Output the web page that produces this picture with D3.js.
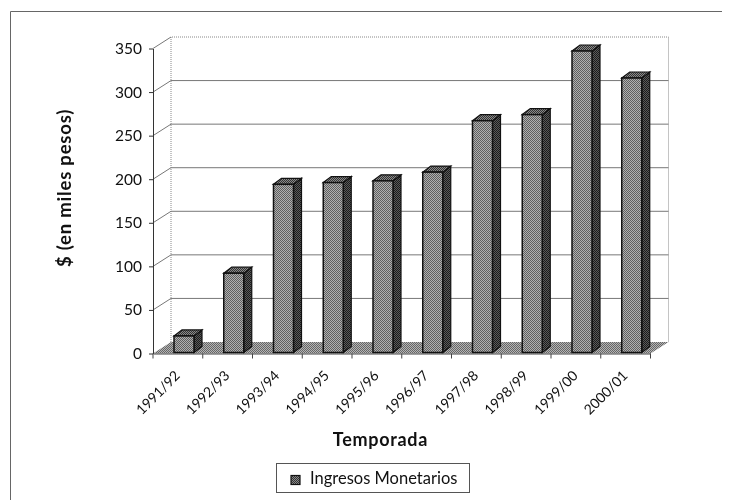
<!DOCTYPE html>
<html><head><meta charset="utf-8">
<style>html,body{margin:0;padding:0;background:#fff}svg{display:block;filter:blur(0.35px)}text{font-family:Lato,"Open Sans",sans-serif;fill:#111}</style>
<script src="https://cdn.jsdelivr.net/npm/d3@7"></script></head><body>
<div id="c"></div>
<script>
const categories=["1991/92","1992/93","1993/94","1994/95","1995/96","1996/97","1997/98","1998/99","1999/00","2000/01"];
const ingresos=[19,91,193,195,197,207,266,273,346,315];
const yTicks=[0,50,100,150,200,250,300,350];
const seriesName="Ingresos Monetarios";
const yTitle="$ (en miles pesos)";
const xTitle="Temporada";

const W=742,H=500;
const svg=d3.select("#c").append("svg").attr("width",W).attr("height",H);
const defs=svg.append("defs");
function dither(id,a,b){
  const p=defs.append("pattern").attr("id",id).attr("width",2).attr("height",2).attr("patternUnits","userSpaceOnUse");
  p.append("rect").attr("width",2).attr("height",2).attr("fill",a);
  p.append("rect").attr("width",1).attr("height",1).attr("fill",b);
  p.append("rect").attr("x",1).attr("y",1).attr("width",1).attr("height",1).attr("fill",b);
}
dither("front","#b0b0b0","#5f5f5f");
dither("side","#5a5a5a","#1c1c1c");
dither("top","#8a8a8a","#333");
dither("floor","#b4b4b4","#666");

const x=d3.scaleBand().domain(categories).range([153,650.5]);
const y=d3.scaleLinear().domain([0,350]).range([353.5,48.5]);
const backDx=18,backDy=11.5,barDx=8,barDy=6,barW=20,barInset=21,barBase=352.5;

// outer frame
svg.append("path").attr("d",`M10.5,500V11.5H722`).attr("fill","none").attr("stroke","#666").attr("stroke-width",1);

// back wall gridlines + side wall
const g=svg.append("g");
g.append("path").attr("d",`M${x.range()[0]+backDx},${y(0)-backDy}V${y(350)-backDy}H${x.range()[1]+backDx}V${y(0)-backDy}`)
 .attr("fill","none").attr("stroke","#888").attr("stroke-dasharray","1 1");
g.selectAll("path.grid").data(yTicks.filter(t=>t>0&&t<350)).join("path").attr("class","grid")
 .attr("d",t=>`M${x.range()[0]},${y(t)}L${x.range()[0]+backDx},${y(t)-backDy}H${x.range()[1]+backDx}`)
 .attr("fill","none").attr("stroke","#777");
g.append("path").attr("d",`M${x.range()[0]},${y(350)}L${x.range()[0]+backDx},${y(350)-backDy}`).attr("fill","none").attr("stroke","#777");

// floor
g.append("path").attr("d",`M${x.range()[0]},${y(0)}L${x.range()[0]+backDx},${y(0)-backDy}H${x.range()[1]+backDx}L${x.range()[1]},${y(0)}Z`)
 .attr("fill","url(#floor)");

// bars
const bars=svg.append("g").selectAll("g").data(categories.map((c,i)=>({c,v:ingresos[i]}))).join("g");
const bx=d=>x(d.c)+barInset;
const by=d=>barBase-(y(0)-y(d.v));
bars.append("path").attr("d",d=>`M${bx(d)+barW},${by(d)}l${barDx},${-barDy}V${barBase-barDy}l${-barDx},${barDy}Z`)
 .attr("fill","url(#side)").attr("stroke","#111").attr("stroke-width",1.2);
bars.append("path").attr("d",d=>`M${bx(d)},${by(d)}l${barDx},${-barDy}h${barW}l${-barDx},${barDy}Z`)
 .attr("fill","url(#top)").attr("stroke","#111").attr("stroke-width",1.2);
bars.append("rect").attr("x",bx).attr("y",by).attr("width",barW).attr("height",d=>barBase-by(d))
 .attr("fill","url(#front)").attr("stroke","#111").attr("stroke-width",1.5);

// axes
const ay=svg.append("g").attr("transform",`translate(${x.range()[0]},0)`)
 .call(d3.axisLeft(y).tickValues(yTicks).tickSize(4).tickPadding(7).tickSizeOuter(0));
ay.selectAll("text").attr("font-size",15.5);
ay.selectAll("path,line").attr("stroke","#333");
const ax=svg.append("g").attr("transform",`translate(0,${y(0)})`)
 .call(d3.axisBottom(x).tickSize(0).tickFormat(d=>d));
ax.select("path").attr("stroke","#444");
ax.selectAll("text").attr("font-size",14).attr("text-anchor","end").attr("dy",0)
 .attr("transform","translate(3,23) rotate(-45)").attr("y",0);
svg.append("g").selectAll("line").data(d3.range(categories.length+1)).join("line")
 .attr("x1",i=>153+i*x.step()).attr("x2",i=>153+i*x.step()).attr("y1",y(0)).attr("y2",y(0)+5).attr("stroke","#444");

// titles
svg.append("text").attr("transform","translate(71,188) rotate(-90)").attr("text-anchor","middle")
 .attr("font-size",18.5).attr("letter-spacing",0.8).attr("font-weight",700).text(yTitle);
svg.append("text").attr("x",380.5).attr("y",446).attr("text-anchor","middle")
 .attr("font-size",18).attr("letter-spacing",0.7).attr("font-weight",700).text(xTitle);

// legend
svg.append("rect").attr("x",276.5).attr("y",463.5).attr("width",193).attr("height",29).attr("fill","#fff").attr("stroke","#555");
svg.append("rect").attr("x",291).attr("y",475.5).attr("width",9).attr("height",9).attr("fill","url(#top)").attr("stroke","#111").attr("stroke-width",1.2);
svg.append("text").attr("x",310).attr("y",484).attr("font-size",16.5).text(seriesName);
</script></body></html>
